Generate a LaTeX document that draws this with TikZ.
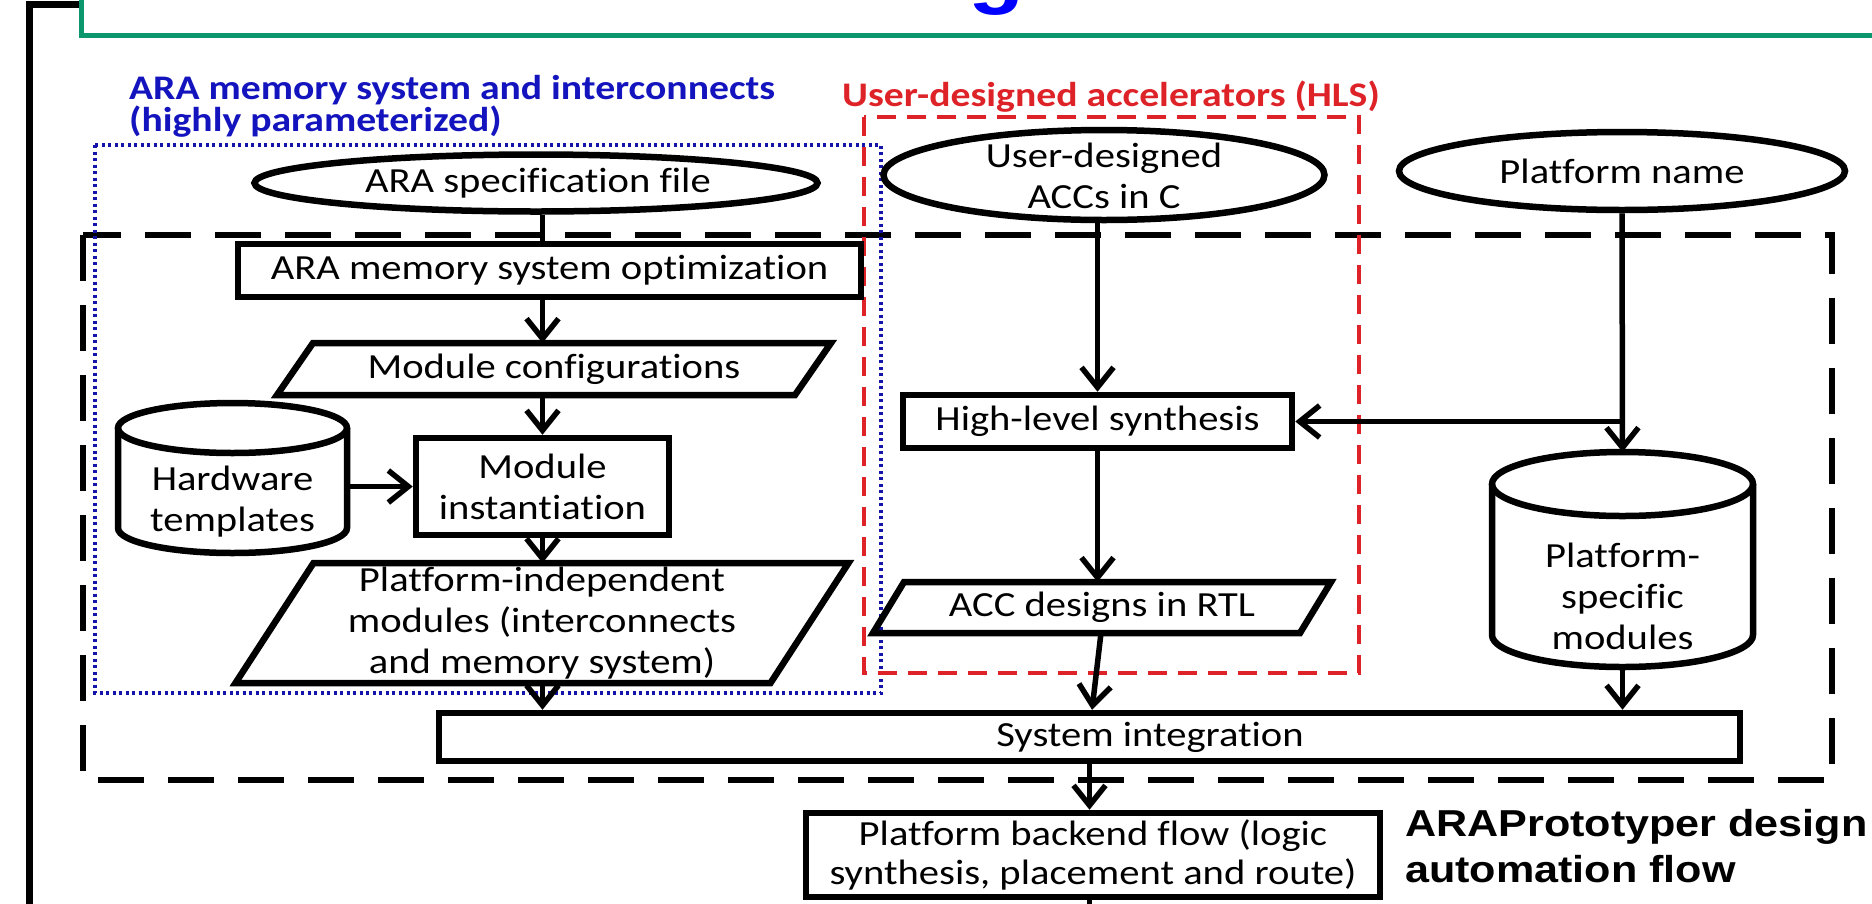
\documentclass[tikz,border=0pt]{standalone}
\usepackage{fontspec}
\setmainfont{Carlito}[FakeStretch=1.15, Ligatures=NoCommon]
\newfontfamily\arialfont{Liberation Sans}[FakeStretch=1.15]
\usetikzlibrary{arrows.meta,shapes.geometric}
\definecolor{framegreen}{RGB}{12,150,110}
\definecolor{labelblue}{RGB}{20,20,190}
\definecolor{titleblue}{RGB}{0,0,255}
\definecolor{hlsred}{RGB}{222,35,40}
\definecolor{dotblue}{RGB}{20,20,170}
\newcommand{\drawpara}[2]{%
  \draw[shapeline] ([xshift=-#2 pt]#1.south west) -- ([xshift=#2 pt]#1.north west) -- ([xshift=#2 pt]#1.north east) -- ([xshift=-#2 pt]#1.south east) -- cycle;}
\newcommand{\drawcyl}[3]{%
  \draw[shapeline] ([yshift=-#3 pt]#1.north west) -- ([yshift=#3 pt]#1.south west) arc[start angle=180, end angle=360, x radius=#2 pt, y radius=#3 pt] -- ([yshift=-#3 pt]#1.north east);
  \draw[shapeline] ([yshift=-#3 pt]#1.north) ellipse[x radius=#2 pt, y radius=#3 pt];}
\tikzset{
  shapeline/.style={line width=6.5pt, line join=miter},
  txt/.style={font=\fontsize{35.3}{41}\selectfont, align=center, inner sep=0pt},
  box/.style={draw, line width=6.5pt, rectangle, inner sep=0pt, txt},
  oval/.style={draw, line width=6.5pt, ellipse, inner sep=0pt, txt},
  shapebox/.style={draw=none, rectangle, inner sep=0pt, outer sep=0pt},
  arr/.style={line width=5.5pt, -{Straight Barb[length=20pt, width=32pt]}},
  conn/.style={line width=5.5pt},
  lbl/.style={anchor=base west, inner sep=0pt, font=\bfseries\fontsize{34.5}{36}\selectfont},
  capt/.style={anchor=base west, inner sep=0pt, font=\arialfont\bfseries\fontsize{37.5}{40}\selectfont},
}
\begin{document}
\begin{tikzpicture}[x=1pt, y=1pt]
\useasboundingbox (0,0) rectangle (1872,-903);
\clip (0,0) rectangle (1872,-903);
% slide frame
\draw[line width=7pt] (29,-910) -- (29,-4) -- (84,-4);
\draw[framegreen, line width=5pt] (81,10) -- (81,-35) -- (1880,-35);
\node[anchor=base west, inner sep=0pt, text=titleblue, font=\arialfont\bfseries\fontsize{80}{80}\selectfont] (gtitle) at (968,2) {g};
% group frames
\draw[line width=6.5pt, dash pattern=on 46pt off 24pt] (83,-235) rectangle (1832,-780);
\draw[dotblue, line width=4pt, dash pattern=on 3pt off 3.5pt] (95,-145) rectangle (881,-693);
\draw[hlsred, line width=4pt, dash pattern=on 19pt off 11pt] (864,-117) rectangle (1359,-673);
% labels
\node[lbl, text=labelblue] (blab1) at (129,-99) {ARA memory system and interconnects};
\node[lbl, text=labelblue] (blab2) at (129,-131) {(highly parameterized)};
\node[lbl, text=hlsred] (rlab) at (842,-106) {User-designed accelerators (HLS)};
% left column
\node[oval, minimum width=563pt, minimum height=57pt] (spec) at (536,-183) {};
\node[txt] (spect) at (538,-183) {ARA specification file};
\node[box, minimum width=623pt, minimum height=53pt] (opt) at (549.5,-270.5) {ARA memory system optimization};
\node[shapebox, minimum width=518pt, minimum height=52pt] (mc) at (554,-369) {};
\drawpara{mc}{18}
\node[txt] (mct) at (mc) {Module configurations};
\node[shapebox, minimum width=229pt, minimum height=150pt] (hw) at (232.5,-478) {};
\drawcyl{hw}{114.5}{25}
\node[txt] (hwt) at (232.5,-502) {Hardware\\templates};
\node[box, minimum width=253pt, minimum height=97pt] (mi) at (542.5,-486.5) {Module\\instantiation};
\node[shapebox, minimum width=535pt, minimum height=120pt] (pi) at (542,-623) {};
\drawpara{pi}{39}
\node[txt] (pit) at (pi) {Platform-independent\\modules (interconnects\\and memory system)};
% middle column
\node[oval, minimum width=441pt, minimum height=90pt] (uacc) at (1104,-175) {};
\node[txt] (uacct) at (1104,-176) {User-designed\\ACCs in C};
\node[box, minimum width=389pt, minimum height=53pt] (hls) at (1097.5,-421.5) {High-level synthesis};
\node[shapebox, minimum width=427pt, minimum height=51pt] (acc) at (1102,-607.5) {};
\drawpara{acc}{15.5}
\node[txt] (acct) at (acc) {ACC designs in RTL};
% right column
\node[oval, minimum width=446pt, minimum height=78pt] (pname) at (1622,-171) {Platform name};
\node[shapebox, minimum width=261pt, minimum height=215pt] (ps) at (1622.5,-559.5) {};
\drawcyl{ps}{130.5}{32}
\node[txt] (pst) at (1622.5,-596) {Platform-\\specific\\modules};
% bottom
\node[box, minimum width=1301pt, minimum height=48pt] (si) at (1089.5,-737) {};
\node[txt] (sit) at (1150,-737) {System integration};
\node[box, minimum width=574pt, minimum height=84pt, font=\fontsize{35.3}{39}\selectfont] (be) at (1093,-855) {Platform backend flow (logic\\synthesis, placement and route)};
\coordinate (offpage) at (1089.5,-930);
\node[capt] (cap1) at (1405,-836) {ARAPrototyper design};
\node[capt] (cap2) at (1405,-882) {automation flow};
% connectors
\draw[conn] (spec.south -| mi.north) -- (opt.north -| mi.north);
\draw[arr] (opt.south -| mi.north) -- (mc.north -| mi.north);
\draw[arr] (mc.south -| mi.north) -- (mi.north);
\draw[arr] (hw.east |- mi.west) -- (mi.west);
\draw[arr] (mi.south) -- (pi.north -| mi.south);
\draw[arr] (pi.south -| mi.south) -- (si.north -| mi.south);
\draw[arr] (hls.north |- uacc.south) -- (hls.north);
\draw[arr] (hls.south) -- (hls.south |- acc.north);
\draw[arr] ([xshift=-1pt]acc.south) -- ([xshift=2.5pt]si.north);
\draw[arr] (pname.south) -- (ps.north);
\draw[arr] (pname.south |- hls.east) -- (hls.east);
\draw[arr] (ps.south) -- (ps.south |- si.north);
\draw[arr] (si.south) -- (si.south |- be.north);
\draw[conn] (be.south -| si.south) -- (offpage);
\end{tikzpicture}
\end{document}
